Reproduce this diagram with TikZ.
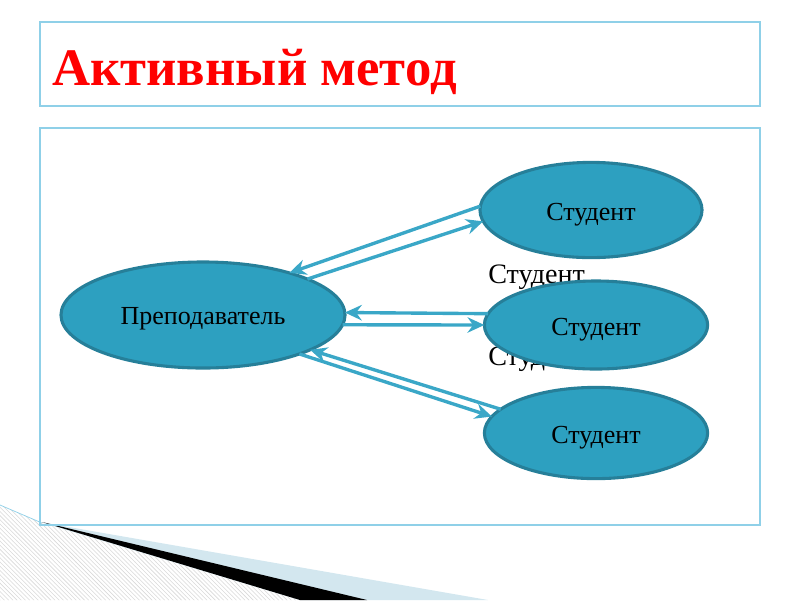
\documentclass[tikz,border=0pt]{standalone}
\usepackage{fontspec}
\setmainfont{Liberation Serif}
\usetikzlibrary{arrows.meta, patterns, shapes.geometric}
\definecolor{framec}{HTML}{8FD0E8}
\definecolor{titlered}{HTML}{FF0000}
\definecolor{ovalfill}{HTML}{2DA0C0}
\definecolor{ovaldraw}{HTML}{267F99}
\definecolor{linkc}{HTML}{3AA7C7}
\definecolor{wedgeblue}{HTML}{D3E7EF}
\newcommand{\lowtext}[1]{\raisebox{-3pt}[\height][\depth]{#1}}
\tikzset{
  frame/.style={draw=framec, line width=1.1pt},
  heading/.style={font=\fontsize{37.5}{40}\selectfont\bfseries, text=titlered, inner sep=0pt},
  %
  oval/.style={ellipse, draw=ovaldraw, fill=ovalfill, line width=2.2pt,
               inner sep=0pt, outer sep=0pt, font=\fontsize{18.5}{20}\selectfont},
  stray/.style={font=\fontsize{20}{22}\selectfont, inner sep=0pt},
  %
  link/.style={draw=linkc, line width=2.4pt,
               -{Stealth[length=12pt, width=11pt, inset=4pt]}},
}

\begin{document}
\begin{tikzpicture}[x=0.025cm, y=-0.025cm]
  \useasboundingbox (0,0) rectangle (800,600);

  % --- corner ornament ----------------------------------------------------
  \fill[pattern=north west lines, pattern color=gray!30]
    (0,505) -- (40,522) -- (300,600) -- (0,600) -- cycle;
  \draw[draw=framec, line width=0.5pt] (0,505) -- (42,523);
  \fill[wedgeblue] (40,522) -- (488,600) -- (300,600) -- cycle;
  \fill[black] (42,522) -- (367,600) -- (300,600) -- cycle;

  % --- frames -------------------------------------------------------------
  \node[frame, minimum width=18cm, minimum height=2.1cm] (titlebox) at (400,64) {};
  \node[heading, anchor=base west] (title) at (52,85) {Активный метод};
  \draw[frame] (40,128) rectangle (760,525);

  % --- nodes --------------------------------------------------------------
  \node[oval, minimum width=7.1cm, minimum height=2.65cm] (t) at (203,315) {\lowtext{Преподаватель}};
  \node[oval, minimum width=5.55cm, minimum height=2.38cm] (s1) at (591,210) {\lowtext{Студент}};

  \node[stray, anchor=base west] (st1) at (488,283) {Студент};
  \node[stray, anchor=base west] (st2) at (488,365) {Студент};

  \node[oval, minimum width=5.58cm, minimum height=2.2cm] (s2) at (596,325) {\lowtext{Студент}};
  \node[oval, minimum width=5.58cm, minimum height=2.28cm] (s3) at (596,433) {\lowtext{Студент}};

  % --- links --------------------------------------------------------------
  \draw[link] (s1.178) -- (t.26);
  \draw[link] (t.19) -- (s1.186);
  \draw[link] (s2.174) -- (t.1);
  \draw[link] (t.-4) -- (s2.180);
  \draw[link] (s3.166) -- (t.-18);
  \draw[link] (t.-22) -- (s3.171);

\end{tikzpicture}
\end{document}
